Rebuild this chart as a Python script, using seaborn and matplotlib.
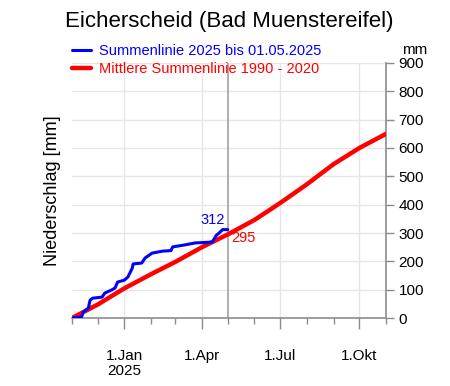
import pandas as pd
import matplotlib
matplotlib.use("Agg")
import matplotlib.pyplot as plt
import matplotlib.dates as mdates
import seaborn as sns

# Daten
mittel_datum = ["2024-11-01", "2024-12-01", "2025-01-01", "2025-02-01", "2025-03-01",
                "2025-04-01", "2025-05-01", "2025-06-01", "2025-07-01", "2025-08-01",
                "2025-09-01", "2025-10-01", "2025-11-01"]
mittel_mm = [0, 48, 105, 155, 198, 250, 295, 346, 406, 472, 543, 600, 650]

akt_datum = ["2024-11-01", "2024-11-12", "2024-11-14", "2024-11-20", "2024-11-22",
             "2024-11-25", "2024-12-06", "2024-12-09", "2024-12-17", "2024-12-21",
             "2024-12-24", "2025-01-01", "2025-01-05", "2025-01-10", "2025-01-11",
             "2025-01-21", "2025-01-25", "2025-02-02", "2025-02-14", "2025-02-24",
             "2025-02-26", "2025-03-12", "2025-03-24", "2025-04-13", "2025-04-18",
             "2025-04-21", "2025-04-25", "2025-05-01"]
akt_mm = [0, 3, 21, 35, 63, 70, 74, 88, 99, 106, 127, 134, 145, 176, 191,
          194, 212, 229, 236, 238, 251, 258, 265, 268, 293, 300, 312, 312]

df_mittel = pd.DataFrame({"datum": pd.to_datetime(mittel_datum), "mm": mittel_mm})
df_akt = pd.DataFrame({"datum": pd.to_datetime(akt_datum), "mm": akt_mm})

sns.set_style("white")
plt.rcParams['font.family'] = ['Liberation Sans', 'DejaVu Sans']
plt.rcParams['text.color'] = 'black'
plt.rcParams['axes.labelcolor'] = 'black'
plt.rcParams['xtick.labelcolor'] = 'black'
plt.rcParams['ytick.labelcolor'] = 'black'

fig = plt.figure(figsize=(4.5, 3.86), dpi=100)
ax = fig.add_axes([0.16, 0.176, 0.698, 0.661])

grau = "#8c8c8c"
ax.grid(False)
for y in range(100, 901, 100):
    ax.axhline(y, color="#e6e6e6", lw=1, zorder=0)
for d in ["2025-01-01", "2025-04-01", "2025-07-01", "2025-10-01"]:
    ax.axvline(pd.Timestamp(d), color="#e6e6e6", lw=1, zorder=0)
ax.axvline(pd.Timestamp("2025-05-01"), color="#a8a8a8", lw=1.3, zorder=1)

sns.lineplot(data=df_mittel, x="datum", y="mm", color="red", lw=3.2, ax=ax,
             label="Mittlere Summenlinie 1990 - 2020", zorder=3)
sns.lineplot(data=df_akt, x="datum", y="mm", color="blue", lw=2.2, ax=ax,
             label="Summenlinie 2025 bis 01.05.2025", zorder=4)

ax.set_xlim(pd.Timestamp("2024-11-01"), pd.Timestamp("2025-11-01"))
ax.set_ylim(0, 900)

ax.text(pd.Timestamp("2025-04-13"), 346, "312", color="blue", fontsize=10.5,
        ha="center", va="center")
ax.text(pd.Timestamp("2025-05-05"), 282, "295", color="red", fontsize=10.5,
        ha="left", va="center")

# Achsen
for s in ["left", "top"]:
    ax.spines[s].set_visible(False)
for s in ["right", "bottom"]:
    ax.spines[s].set_color(grau)
    ax.spines[s].set_linewidth(1.2)

ax.yaxis.tick_right()
ax.yaxis.set_label_position("left")
ax.set_yticks(range(0, 901, 100))
ax.tick_params(axis="y", which="major", right=True, left=False, length=6,
               width=1, color=grau, labelsize=11, pad=3)

ax.set_xticks(pd.to_datetime(["2025-01-01", "2025-04-01", "2025-07-01", "2025-10-01"]))
ax.set_xticklabels(["1.Jan\n2025", "1.Apr", "1.Jul", "1.Okt"])
ax.xaxis.set_minor_locator(mdates.MonthLocator())
ax.tick_params(axis="x", which="major", bottom=True, length=8, width=1,
               color=grau, labelsize=11, pad=14)
ax.tick_params(axis="x", which="minor", bottom=True, length=4, width=1, color=grau)
for t in ax.get_xticklabels():
    t.set_linespacing(1.1)
    t.set_va("top")

ax.set_xlabel("")
ax.set_ylabel("Niederschlag [mm]", fontsize=13, labelpad=8)
ax.text(1.092, 1.05, "mm", transform=ax.transAxes, fontsize=11, ha="center", va="center")

handles, labels = ax.get_legend_handles_labels()
leg = ax.legend(handles[::-1], labels[::-1], loc="upper left", bbox_to_anchor=(0.0, 1.075),
                frameon=False, fontsize=10.5, handlelength=1.3, handletextpad=0.55,
                borderpad=0, borderaxespad=0, labelspacing=0.3)
for txt, c in zip(leg.get_texts(), ["blue", "red"]):
    txt.set_color(c)

fig.text(0.51, 1 - 22 / 386, "Eicherscheid (Bad Muenstereifel)", fontsize=16,
         ha="center", va="center")

fig.savefig("out.png", dpi=100)
